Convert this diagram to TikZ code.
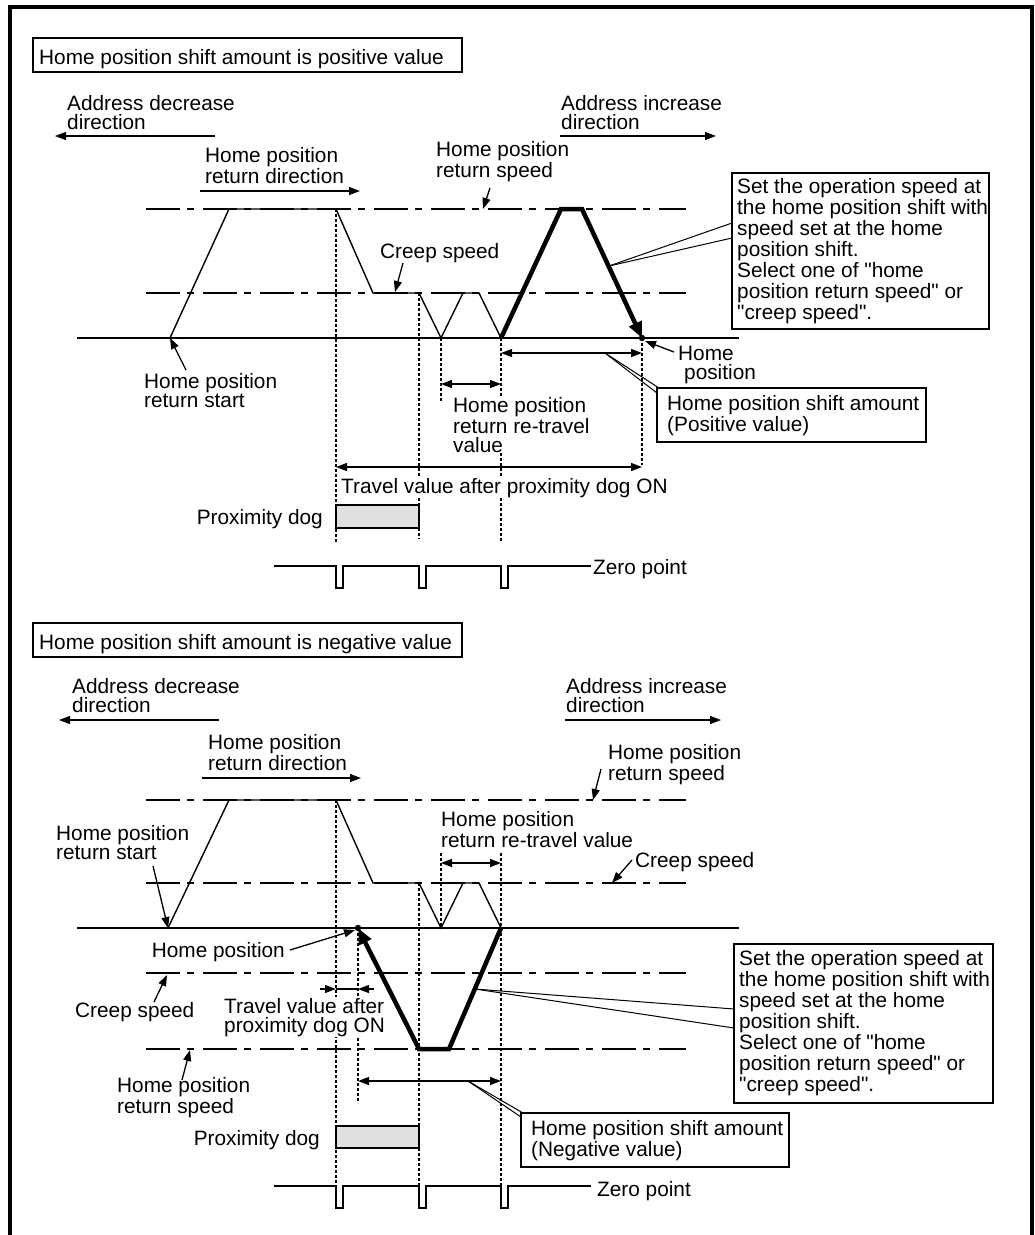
\documentclass[tikz,border=0pt]{standalone}
\usepackage{fontspec}
\setmainfont{Liberation Sans}
\usetikzlibrary{arrows.meta}
\definecolor{dogfill}{RGB}{224,224,224}
\newcommand\lbfont{\fontsize{20.8pt}{19pt}\selectfont}
\newcommand\bxfont{\fontsize{20.8pt}{21pt}\selectfont}
\newcommand\qq{\textquotedbl}
\tikzset{
  lbl/.style={font=\lbfont, anchor=base west, align=left, inner sep=1pt, fill=white},
  lbr/.style={lbl, anchor=base east},
  bxt/.style={lbl, font=\bxfont, fill=none},
  ar/.style={-{Triangle[length=11pt,width=8pt]}, line width=1.3pt},
  dim/.style={{Triangle[length=11pt,width=8pt]}-{Triangle[length=11pt,width=8pt]}, line width=1.3pt},
  dd/.style={line width=2pt, dash pattern=on 34pt off 7pt on 7pt off 9pt},
  vd/.style={line width=1.1pt, dash pattern=on 3pt off 2pt},
  prof/.style={line width=1.4pt},
  thk/.style={line width=4.5pt, -{Triangle[length=16pt,width=13pt]}},
  frm/.style={line width=1.2pt},
  axisl/.style={line width=2pt},
  zsig/.style={line width=2.2pt},
  wdg/.style={line width=1pt},
}
\begin{document}
\begin{tikzpicture}[x=1pt,y=-1pt]
\useasboundingbox (0,0) rectangle (1035,1235);
% outer frame
\draw[line width=4pt] (9.5,1235) -- (9.5,7) -- (1032,7) -- (1032,1235);

%================ TOP: positive =================
\draw[frm] (33,38) rectangle (462,72);
\node[lbl, fill=none] (t1) at (38,64) {Home position shift amount is positive value};

% speed levels
\draw[dd] (146,209) -- (686,209);
\draw[dd] (146,293) -- (686,293);
\draw[axisl] (77,338) -- (739,338);

% named profile points
\coordinate (a0) at (170,338);
\coordinate (a1) at (229,209);
\coordinate (a2) at (336,209);
\coordinate (a3) at (373,293);
\coordinate (a4) at (419,293);
\coordinate (a5) at (441,338);
\coordinate (a6) at (463,293);
\coordinate (a7) at (479,293);
\coordinate (a8) at (501,338);
\coordinate (a9) at (561,209);
\coordinate (a10) at (582,209);
\coordinate (hpA) at (642,338);

% vertical dotted lines
\draw[vd] (a2) -- (336,543);
\draw[vd] (a4) -- (419,539);
\draw[vd] (a5) -- (441,402);
\draw[vd] (a8) -- (501,542);
\draw[vd] (hpA) -- (642,465);

% profiles
\draw[prof] (a0) -- (a1) -- (a2) -- (a3) -- (a4) -- (a5) -- (a6) -- (a7) -- (a8);
\draw[thk] (a8) -- (a9) -- (a10) -- (hpA);
\fill (hpA) circle (3.2);

% dimension arrows
\draw[dim] (501,353) -- (642,353);
\draw[dim] (441,384) -- (501,384);
\draw[dim] (336,467) -- (642,467);

% direction arrows
\draw[ar] (215,136) -- (55,136);
\draw[ar] (560,136) -- (716,136);
\draw[ar] (200,191) -- (360,191);

% proximity dog
\draw[frm, fill=dogfill] (336,505) rectangle (419,528);

% zero point signal
\draw[zsig] (274,566) -- (336,566) -- (336,588) -- (343,588) -- (343,566) -- (419,566) -- (419,588) -- (426,588) -- (426,566) -- (501,566) -- (501,588) -- (508,588) -- (508,566) -- (591,566);

% labels (base = last line)
\node[lbl] (adec1) at (66,129) {Address decrease\\direction};
\node[lbl] (ainc1) at (560,129) {Address increase\\direction};
\node[lbl] (hrd1) at (204,183) {Home position\\return direction};
\node[lbl] (hrs1) at (435,177) {Home position\\return speed};
\node[lbl] (cs1) at (379,258) {Creep speed};
\node[lbl] (hst1) at (143,407) {Home position\\return start};
\node[lbl] (rtv1) at (452,452) {Home position\\return re-travel\\value};
\node[lbl] (tv1) at (340,493) {Travel value after proximity dog ON};
\node[lbr] (pd1) at (324,524) {Proximity dog};
\node[lbl] (hp1) at (677,379) {Home\\\hspace*{6pt}position};
\node[lbl] (zp1) at (592,574) {Zero point};

% pointer arrows
\coordinate (p1) at (490,188); \draw[ar] (p1) -- (483,209);
\coordinate (p2) at (403,263); \draw[ar] (p2) -- (395,292);
\coordinate (p3) at (186,370); \draw[ar] (p3) -- (a0);
\coordinate (p4) at (674,352); \draw[ar] (p4) -- (645,341);

% shift amount box
\draw[frm] (657,388) rectangle (926,442);
\node[lbl, fill=none] (sa1) at (666,431) {Home position shift amount\\(Positive value)};
\coordinate (w1) at (605,353);
\draw[wdg] (w1) -- (659,388);
\draw[wdg] (w1) -- (657,393);

% callout box
\draw[frm] (732,173) rectangle (989,329);
\node[bxt] (cb1) at (736,319) {Set the operation speed at\\the home position shift with\\speed set at the home\\position shift.\\Select one of \qq home\\position return speed\qq{} or\\\qq creep speed\qq .};
\coordinate (w2) at (609,266);
\draw[wdg] (w2) -- (732,223);
\draw[wdg] (w2) -- (732,238);

%================ BOTTOM: negative =================
\draw[frm] (33,623) rectangle (462,657);
\node[lbl, fill=none] (t2) at (38,649) {Home position shift amount is negative value};

\draw[dd] (146,800) -- (686,800);
\draw[dd] (146,883) -- (686,883);
\draw[axisl] (77,928) -- (739,928);
\draw[dd] (146,973) -- (686,973);
\draw[dd] (146,1049) -- (686,1049);

\coordinate (b0) at (168,928);
\coordinate (b1) at (229,800);
\coordinate (b2) at (336,800);
\coordinate (b3) at (373,883);
\coordinate (b4) at (419,883);
\coordinate (b5) at (441,928);
\coordinate (b6) at (463,883);
\coordinate (b7) at (479,883);
\coordinate (b8) at (501,928);
\coordinate (b9) at (449,1049);
\coordinate (b10) at (419,1049);
\coordinate (hpB) at (358,928);

\draw[vd] (b2) -- (336,1186);
\draw[vd] (hpB) -- (358,1103);
\draw[vd] (b4) -- (419,1186);
\draw[vd] (441,853) -- (b5);
\draw[vd] (501,853) -- (501,1186);

\draw[prof] (b0) -- (b1) -- (b2) -- (b3) -- (b4) -- (b5) -- (b6) -- (b7) -- (b8);
\draw[thk] (b8) -- (b9) -- (b10) -- (hpB);
\fill (hpB) circle (3.2);

\draw[dim] (441,863) -- (501,863);
\draw[dim] (358,1081) -- (501,1081);
\draw[ar] (320,989) -- (336,989);
\draw[ar] (374,989) -- (358,989);
\draw[line width=1.3pt] (336,989) -- (358,989);

\draw[ar] (219,720) -- (59,720);
\draw[ar] (565,720) -- (721,720);
\draw[ar] (202,778) -- (361,778);

\draw[frm, fill=dogfill] (336,1126) rectangle (419,1148);

\draw[zsig] (274,1186) -- (336,1186) -- (336,1208) -- (343,1208) -- (343,1186) -- (419,1186) -- (419,1208) -- (426,1208) -- (426,1186) -- (501,1186) -- (501,1208) -- (508,1208) -- (508,1186) -- (591,1186);

\node[lbl] (adec2) at (71,712) {Address decrease\\direction};
\node[lbl] (ainc2) at (565,712) {Address increase\\direction};
\node[lbl] (hrd2) at (207,770) {Home position\\return direction};
\node[lbl] (hrs2) at (607,780) {Home position\\return speed};
\node[lbl] (hst2) at (55,859) {Home position\\return start};
\node[lbl] (rtv2) at (440,847) {Home position\\return re-travel value};
\node[lbl] (cs2) at (634,867) {Creep speed};
\node[lbr] (hp2) at (286,957) {Home position};
\node[lbl] (cs3) at (74,1017) {Creep speed};
\node[lbl] (tv2) at (223,1032) {Travel value after\\proximity dog ON};
\node[lbl] (hrs3) at (116,1113) {Home position\\return speed};
\node[lbr] (pd2) at (321,1145) {Proximity dog};
\node[lbl] (zp2) at (596,1196) {Zero point};

\coordinate (q1) at (601,769); \draw[ar] (q1) -- (593,800);
\coordinate (q2) at (153,866); \draw[ar] (q2) -- (b0);
\coordinate (q3) at (632,860); \draw[ar] (q3) -- (612,883);
\coordinate (q4) at (290,950); \draw[ar] (q4) -- (355,930);
\coordinate (q5) at (154,1002); \draw[ar] (q5) -- (167,975);
\coordinate (q6) at (182,1080); \draw[ar] (q6) -- (190,1050);

\draw[frm] (521,1113) rectangle (789,1167);
\node[lbl, fill=none] (sa2) at (530,1156) {Home position shift amount\\(Negative value)};
\coordinate (w3) at (468,1081);
\draw[wdg] (w3) -- (523,1113);
\draw[wdg] (w3) -- (521,1117);

\draw[frm] (734,944) rectangle (993,1103);
\node[bxt] (cb2) at (738,1091) {Set the operation speed at\\the home position shift with\\speed set at the home\\position shift.\\Select one of \qq home\\position return speed\qq{} or\\\qq creep speed\qq .};
\coordinate (w4) at (475,989);
\draw[wdg] (w4) -- (734,1009);
\draw[wdg] (w4) -- (734,1028);
\end{tikzpicture}
\end{document}
